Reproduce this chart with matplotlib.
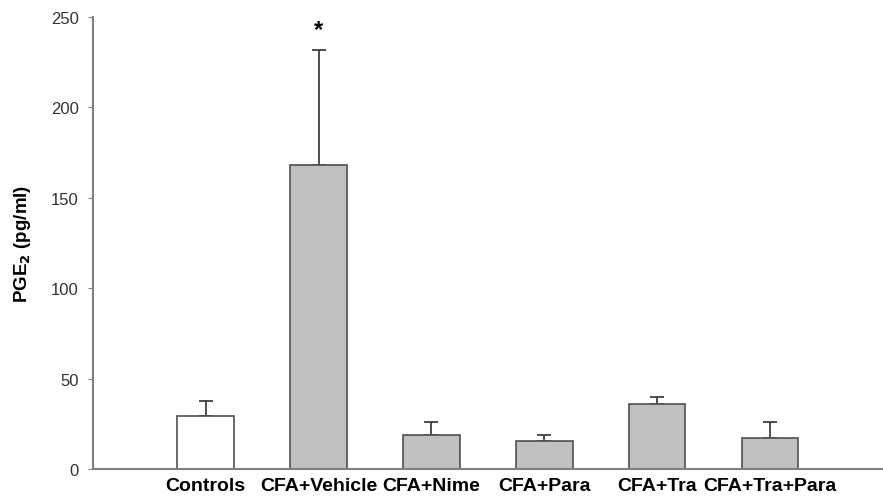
import matplotlib
matplotlib.use("Agg")
import matplotlib.pyplot as plt
import numpy as np

groups = ["Controls", "CFA+Vehicle", "CFA+Nime", "CFA+Para", "CFA+Tra", "CFA+Tra+Para"]
means = [29, 168, 19, 15.5, 36, 17]
errs = [8.5, 64, 7, 3.5, 4, 9]
colors = ["white", "#c0c0c0", "#c0c0c0", "#c0c0c0", "#c0c0c0", "#c0c0c0"]
yticks = [0, 50, 100, 150, 200, 250]

plt.rcParams['font.family'] = ['Liberation Sans', 'DejaVu Sans']

fig = plt.figure(figsize=(8.83, 5.02), dpi=100)
ax = fig.add_axes([0.105, 0.064, 0.895, 0.9])

x = np.arange(1, len(groups) + 1)
ax.bar(x, means, width=0.5, color=colors, edgecolor="#505050", linewidth=1.2, zorder=2)
ax.errorbar(x, means, yerr=[np.zeros(len(errs)), errs], fmt="none",
            ecolor="#404040", elinewidth=1.3, capsize=4.7, capthick=1.3, zorder=1)

ax.text(2, 237, "*", ha="center", va="bottom", fontsize=17, fontweight="bold")

ax.set_xlim(0, 7)
ax.set_ylim(0, 250)
ax.set_yticks(yticks)
ax.set_xticks(x)
ax.set_xticklabels(groups, fontsize=14, fontweight="bold")
ax.tick_params(axis="x", length=0, pad=6)
ax.tick_params(axis="y", direction="out", length=3.6, color="#808080", pad=6.5,
               labelsize=12, labelcolor="#333333")
ax.set_ylabel("PGE$_\\mathbf{2}$ (pg/ml)", fontsize=13.5, fontweight="bold")
ax.yaxis.set_label_coords(-0.076, 0.5)

for s in ["top", "right"]:
    ax.spines[s].set_visible(False)
for s in ["left", "bottom"]:
    ax.spines[s].set_color("#808080")
    ax.spines[s].set_linewidth(1.5)

fig.savefig("out.png", dpi=100)
